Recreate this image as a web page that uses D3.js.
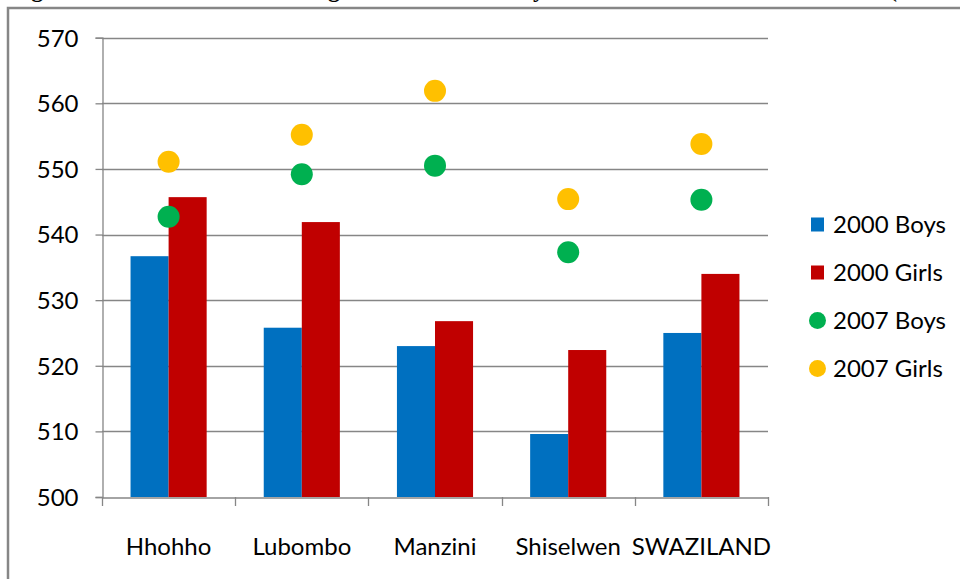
<!DOCTYPE html>
<html>
<head>
<meta charset="utf-8">
<script src="https://cdn.jsdelivr.net/npm/d3@7"></script>
<style>
  body { margin: 0; background: #fff; }
  svg { display: block; }
  text { font-family: Lato, "Open Sans", sans-serif; fill: #000; }
</style>
</head>
<body>
<div id="chart"></div>
<script>
// data
const regions = ["Hhohho", "Lubombo", "Manzini", "Shiselwen", "SWAZILAND"]
const boys2000 = [536.7, 525.8, 523.0, 509.6, 525.0]
const girls2000 = [545.7, 541.9, 526.8, 522.4, 534.0]
const boys2007 = [542.7, 549.2, 550.5, 537.3, 545.3]
const girls2007 = [551.1, 555.2, 561.9, 545.4, 553.8]
const yTicks = [500, 510, 520, 530, 540, 550, 560, 570]

const width = 960, height = 579
const svg = d3.select("#chart").append("svg")
    .attr("width", width).attr("height", height)

// clipped title above the frame (only descenders show)
const titleBits = [
    {t: "Figure", x: 10, a: "start"},
    {t: "4: Mean Reading", x: 340, a: "end"},
    {t: "Scores by", x: 545, a: "end"},
    {t: "District and Gender", x: 884, a: "end"},
    {t: "(2000 and 2007)", x: 889, a: "start"}
]
svg.selectAll(".title").data(titleBits).enter().append("text")
    .attr("class", "title")
    .attr("x", d => d.x).attr("y", -3)
    .attr("text-anchor", d => d.a)
    .style("font-family", "'Liberation Serif', serif")
    .style("font-weight", "bold")
    .style("font-size", "24px")
    .text(d => d.t)

// outer frame
svg.append("rect")
    .attr("x", 8).attr("y", 8)
    .attr("width", 1000).attr("height", 700)
    .attr("fill", "none").attr("stroke", "#868686").attr("stroke-width", 2.5)

const plot = {left: 102, right: 768, top: 37.7, bottom: 497}

const x0 = d3.scaleBand().domain(regions).range([plot.left, plot.right])
const x1 = d3.scaleBand().domain(["2000 Boys", "2000 Girls"])
    .range([0, x0.bandwidth()]).paddingOuter(0.75)
const y = d3.scaleLinear().domain([500, 570]).range([plot.bottom, plot.top])

// gridlines
svg.append("g").selectAll("line").data(yTicks.slice(1)).enter().append("line")
    .attr("x1", plot.left).attr("x2", plot.right)
    .attr("y1", d => Math.round(y(d)) + 0.5).attr("y2", d => Math.round(y(d)) + 0.5)
    .attr("stroke", "#868686").attr("stroke-width", 1.3)

// y axis
const yAxis = svg.append("g")
    .attr("transform", `translate(${plot.left + 0.5},0)`)
    .call(d3.axisLeft(y).tickValues(yTicks).tickSize(7).tickPadding(17).tickFormat(d3.format("d")))
yAxis.select(".domain").attr("stroke", "#868686").attr("stroke-width", 1.3)
yAxis.selectAll(".tick line").attr("stroke", "#868686").attr("stroke-width", 1.3)
yAxis.selectAll(".tick text").style("font-size", "24px").style("font-family", "Lato, sans-serif")
    .attr("dy", "0.35em")

// bars
const barData = []
regions.forEach((r, i) => {
    barData.push({region: r, key: "2000 Boys", v: boys2000[i], c: "#0070C0"})
    barData.push({region: r, key: "2000 Girls", v: girls2000[i], c: "#C00000"})
})
svg.append("g").selectAll("rect").data(barData).enter().append("rect")
    .attr("x", d => x0(d.region) + x1(d.key))
    .attr("width", x1.bandwidth())
    .attr("y", d => y(d.v))
    .attr("height", d => y(500) - y(d.v))
    .attr("fill", d => d.c)

// x axis
const xAxis = svg.append("g")
    .attr("transform", `translate(0,${Math.round(plot.bottom) + 0.5})`)
    .call(d3.axisBottom(x0).tickSize(0).tickPadding(40))
xAxis.select(".domain").attr("stroke", "#868686").attr("stroke-width", 1.3)
xAxis.selectAll(".tick text").style("font-size", "24px").style("font-family", "Lato, sans-serif")
svg.append("g").selectAll("line")
    .data(regions.map(r => x0(r)).concat([plot.right]))
    .enter().append("line")
    .attr("x1", d => Math.round(d) + 0.5).attr("x2", d => Math.round(d) + 0.5)
    .attr("y1", plot.bottom).attr("y2", plot.bottom + 9)
    .attr("stroke", "#868686").attr("stroke-width", 1.3)

// markers
const dotSeries = [
    {key: "2007 Boys", vals: boys2007, c: "#00B050"},
    {key: "2007 Girls", vals: girls2007, c: "#FFC000"}
]
dotSeries.forEach(s => {
    svg.append("g").selectAll("circle").data(s.vals).enter().append("circle")
        .attr("cx", (d, i) => x0(regions[i]) + x0.bandwidth() / 2)
        .attr("cy", d => y(d))
        .attr("r", 11)
        .attr("fill", s.c)
})

// legend
const legendItems = [
    {key: "2000 Boys", c: "#0070C0", shape: "rect"},
    {key: "2000 Girls", c: "#C00000", shape: "rect"},
    {key: "2007 Boys", c: "#00B050", shape: "circle"},
    {key: "2007 Girls", c: "#FFC000", shape: "circle"}
]
const lg = svg.append("g").selectAll("g").data(legendItems).enter().append("g")
    .attr("transform", (d, i) => `translate(817.5,${224.5 + i * 48})`)
lg.filter(d => d.shape === "rect").append("rect")
    .attr("x", -6.5).attr("y", -7).attr("width", 13).attr("height", 14)
    .attr("fill", d => d.c)
lg.filter(d => d.shape === "circle").append("circle")
    .attr("r", 8.5).attr("fill", d => d.c)
lg.append("text")
    .attr("x", 15.5).attr("dy", "0.35em")
    .style("font-size", "24px")
    .text(d => d.key)
</script>
</body>
</html>
